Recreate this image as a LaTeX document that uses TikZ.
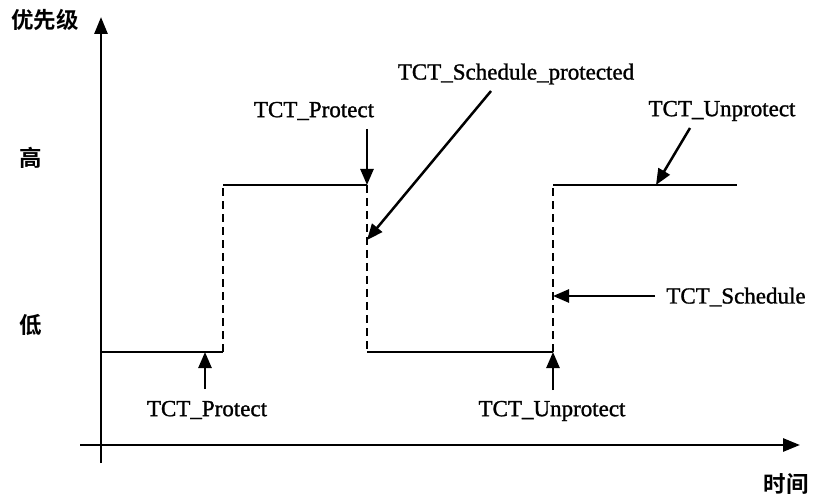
\documentclass[tikz,border=0pt]{standalone}
\usepackage{fontspec}
\setmainfont{Liberation Serif}
\newfontfamily\heavyserif{Liberation Serif}[FakeBold=1.2]
\newfontfamily\cjk{Noto Sans CJK SC Bold}
\usetikzlibrary{arrows.meta}
\begin{document}
\begin{tikzpicture}[x=1pt,y=-1pt,
  axis/.style={line width=2.8pt,-{Triangle[length=17pt,width=13pt]}},
  level/.style={line width=2.5pt},
  edge/.style={line width=2.6pt,dash pattern=on 8pt off 5pt},
  pointer/.style={line width=2.5pt,-{Triangle[length=16pt,width=13pt]}},
  lbl/.style={inner sep=0pt,font=\heavyserif\fontsize{23}{27}\selectfont},
  zh/.style={inner sep=0pt,font=\cjk\fontsize{22.5}{26}\selectfont}]
\useasboundingbox (0,0) rectangle (817,497);

% axes
\coordinate (ybot) at (101,463);
\coordinate (ytop) at (101,17);
\coordinate (xleft) at (80,445);
\coordinate (xright) at (800,445);
\draw[axis] (ybot) -- (ytop);
\draw[axis] (xleft) -- (xright);

% axis labels
\node[zh] (prio) at (45,20) {优先级};
\node[zh] (high) at (31,158) {高};
\node[zh] (low) at (31,325) {低};
\node[zh] (time) at (786,484) {时间};

% priority waveform corners
\coordinate (p0) at (102,352);
\coordinate (p1) at (223,352);
\coordinate (p2) at (223,185);
\coordinate (p3) at (367,185);
\coordinate (p4) at (367,352);
\coordinate (p5) at (553,352);
\coordinate (p6) at (553,185);
\coordinate (p7) at (737,185);
\draw[level] (p0) -- (p1);
\draw[edge] (p1) -- (p2);
\draw[level] (p2) -- (p3);
\draw[edge] (p3) -- (p4);
\draw[level] (p4) -- (p5);
\draw[edge] (p5) -- (p6);
\draw[level] (p6) -- (p7);

% event labels
\node[lbl] (prot1) at (207,410) {TCT\_Protect};
\node[lbl] (prot2) at (314,111) {TCT\_Protect};
\node[lbl] (schedp) at (516,74) {TCT\_Schedule\_protected};
\node[lbl] (unprot1) at (722,111) {TCT\_Unprotect};
\node[lbl] (sched) at (736,297) {TCT\_Schedule};
\node[lbl] (unprot2) at (552,411) {TCT\_Unprotect};

% arrow targets on the waveform
\coordinate (t1) at (205,352);
\coordinate (t2) at (367,185);
\coordinate (t3) at (367,240);
\coordinate (t4) at (656,185);
\coordinate (t5) at (553,296);
\coordinate (t6) at (553,352);

% arrow tails
\coordinate (s1) at (205,389);
\coordinate (s2) at (367,129);
\coordinate (s3) at (491,91);
\coordinate (s4) at (690,128);
\coordinate (s5) at (655,296);
\coordinate (s6) at (553,390);

\draw[pointer] (s1) -- (t1);
\draw[pointer] (s2) -- (t2);
\draw[pointer] (s3) -- (t3);
\draw[pointer] (s4) -- (t4);
\draw[pointer] (s5) -- (t5);
\draw[pointer] (s6) -- (t6);
\end{tikzpicture}
\end{document}
